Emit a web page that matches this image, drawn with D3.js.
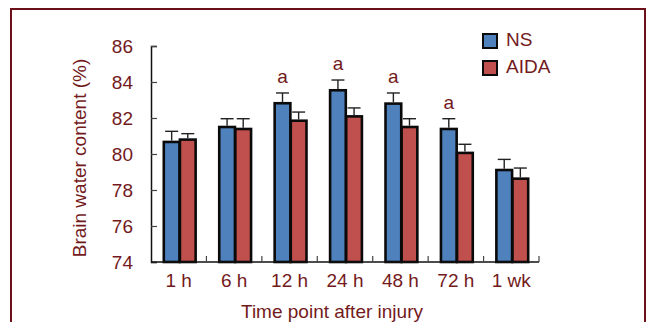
<!DOCTYPE html>
<html>
<head>
<meta charset="utf-8">
<script src="https://cdn.jsdelivr.net/npm/d3@7"></script>
<style>
  html, body { margin: 0; padding: 0; background: #fff; }
  svg { display: block; font-family: "Liberation Sans", Arial, sans-serif; }
</style>
</head>
<body>
<svg id="chart" width="648" height="322"></svg>
<script>
// Time points after injury
const categories = ["1 h", "6 h", "12 h", "24 h", "48 h", "72 h", "1 wk"];
const seriesNames = ["NS", "AIDA"];
// Mean brain water content (%)
const nsValues   = [80.67, 81.50, 82.82, 83.54, 82.80, 81.39, 79.11];
const aidaValues = [80.80, 81.39, 81.85, 82.09, 81.50, 80.06, 78.63];
// Standard errors
const nsErrors   = [0.59, 0.46, 0.57, 0.57, 0.59, 0.57, 0.59];
const aidaErrors = [0.33, 0.57, 0.48, 0.47, 0.46, 0.48, 0.59];
// Significance markers over NS bars
const marks = ["", "", "a", "a", "a", "a", ""];
const yTicks = [74, 76, 78, 80, 82, 84, 86];

const textColor = "#731a1c";
const colors = { NS: "#4f81bd", AIDA: "#c0504d" };

const svg = d3.select("#chart");

// Outer frame
svg.append("rect")
  .attr("x", 11).attr("y", 9)
  .attr("width", 634).attr("height", 330)
  .attr("fill", "none")
  .attr("stroke", "#6b1016")
  .attr("stroke-width", 2);

const plotLeft = 151, plotRight = 539, plotTop = 46, plotBottom = 262;

const y = d3.scaleLinear().domain([74, 86]).range([plotBottom, plotTop]);
const x0 = d3.scaleBand().domain(categories).range([plotLeft, plotRight]);
const x1 = d3.scaleBand().domain(seriesNames)
  .range([0, x0.bandwidth()])
  .paddingInner(0)
  .paddingOuter(0.72);

const rows = categories.map((c, i) => ({
  cat: c,
  mark: marks[i],
  bars: [
    { s: "NS", v: nsValues[i], e: nsErrors[i] },
    { s: "AIDA", v: aidaValues[i], e: aidaErrors[i] }
  ]
}));

// Y axis with inward ticks
const yAxis = svg.append("g")
  .attr("transform", `translate(${plotLeft},0)`)
  .call(d3.axisLeft(y).tickValues(yTicks).tickSize(-6).tickPadding(18).tickFormat(d3.format("d")));
yAxis.select(".domain").attr("stroke", "#111").attr("stroke-width", 1.5);
yAxis.selectAll(".tick line").attr("stroke", "#444").attr("stroke-width", 1.2);
yAxis.selectAll(".tick text")
  .attr("fill", textColor)
  .attr("font-size", 19)
  .attr("font-family", "Liberation Sans, Arial, sans-serif");

// Bars
const groups = svg.append("g").selectAll("g")
  .data(rows).join("g")
  .attr("transform", d => `translate(${x0(d.cat)},0)`);

groups.selectAll("rect")
  .data(d => d.bars).join("rect")
  .attr("x", d => x1(d.s) + 1.2)
  .attr("y", d => y(d.v))
  .attr("width", x1.bandwidth() - 0.4)
  .attr("height", d => y(74) - y(d.v))
  .attr("fill", d => colors[d.s])
  .attr("stroke", "#0a0a0a")
  .attr("stroke-width", 2.6);

// Upper error bars
const err = groups.selectAll("g.err")
  .data(d => d.bars).join("g").attr("class", "err");
err.append("line")
  .attr("x1", d => x1(d.s) + x1.bandwidth() / 2 + 1)
  .attr("x2", d => x1(d.s) + x1.bandwidth() / 2 + 1)
  .attr("y1", d => y(d.v) - 1.3)
  .attr("y2", d => y(d.v + d.e))
  .attr("stroke", "#222").attr("stroke-width", 1.4);
err.append("line")
  .attr("x1", d => x1(d.s) + x1.bandwidth() / 2 + 1 - 6.5)
  .attr("x2", d => x1(d.s) + x1.bandwidth() / 2 + 1 + 6.5)
  .attr("y1", d => y(d.v + d.e))
  .attr("y2", d => y(d.v + d.e))
  .attr("stroke", "#222").attr("stroke-width", 1.4);

// Significance letters
groups.filter(d => d.mark)
  .append("text")
  .attr("x", d => x1("NS") + x1.bandwidth() / 2 + 1)
  .attr("y", d => y(d.bars[0].v + d.bars[0].e) - 10)
  .attr("text-anchor", "middle")
  .attr("fill", textColor)
  .attr("font-size", 19)
  .text(d => d.mark);

// X axis with upward ticks at category boundaries
svg.append("line")
  .attr("x1", plotLeft).attr("x2", plotRight)
  .attr("y1", plotBottom).attr("y2", plotBottom)
  .attr("stroke", "#111").attr("stroke-width", 1.5);
const boundaries = categories.map(c => x0(c) + x0.bandwidth());
svg.append("g").selectAll("line")
  .data(boundaries).join("line")
  .attr("x1", d => d).attr("x2", d => d)
  .attr("y1", plotBottom).attr("y2", plotBottom - 6)
  .attr("stroke", "#444").attr("stroke-width", 1.2);

svg.append("g").selectAll("text")
  .data(categories).join("text")
  .attr("x", d => x0(d) + x0.bandwidth() / 2)
  .attr("y", 287)
  .attr("text-anchor", "middle")
  .attr("fill", textColor)
  .attr("font-size", 19)
  .text(d => d);

// Axis titles
svg.append("text")
  .attr("x", 332).attr("y", 318)
  .attr("text-anchor", "middle")
  .attr("fill", textColor)
  .attr("font-size", 19)
  .text("Time point after injury");

svg.append("text")
  .attr("transform", `translate(86,${(plotTop + plotBottom) / 2 + 4}) rotate(-90)`)
  .attr("text-anchor", "middle")
  .attr("fill", textColor)
  .attr("font-size", 19)
  .text("Brain water content (%)");

// Legend
const legend = svg.append("g").selectAll("g")
  .data(seriesNames).join("g")
  .attr("transform", (d, i) => `translate(483,${34 + i * 27})`);
legend.append("rect")
  .attr("width", 14).attr("height", 14)
  .attr("fill", d => colors[d])
  .attr("stroke", "#0a0a0a").attr("stroke-width", 2);
legend.append("text")
  .attr("x", 23).attr("y", 12)
  .attr("fill", textColor)
  .attr("font-size", 19)
  .text(d => d);
</script>
</body>
</html>
